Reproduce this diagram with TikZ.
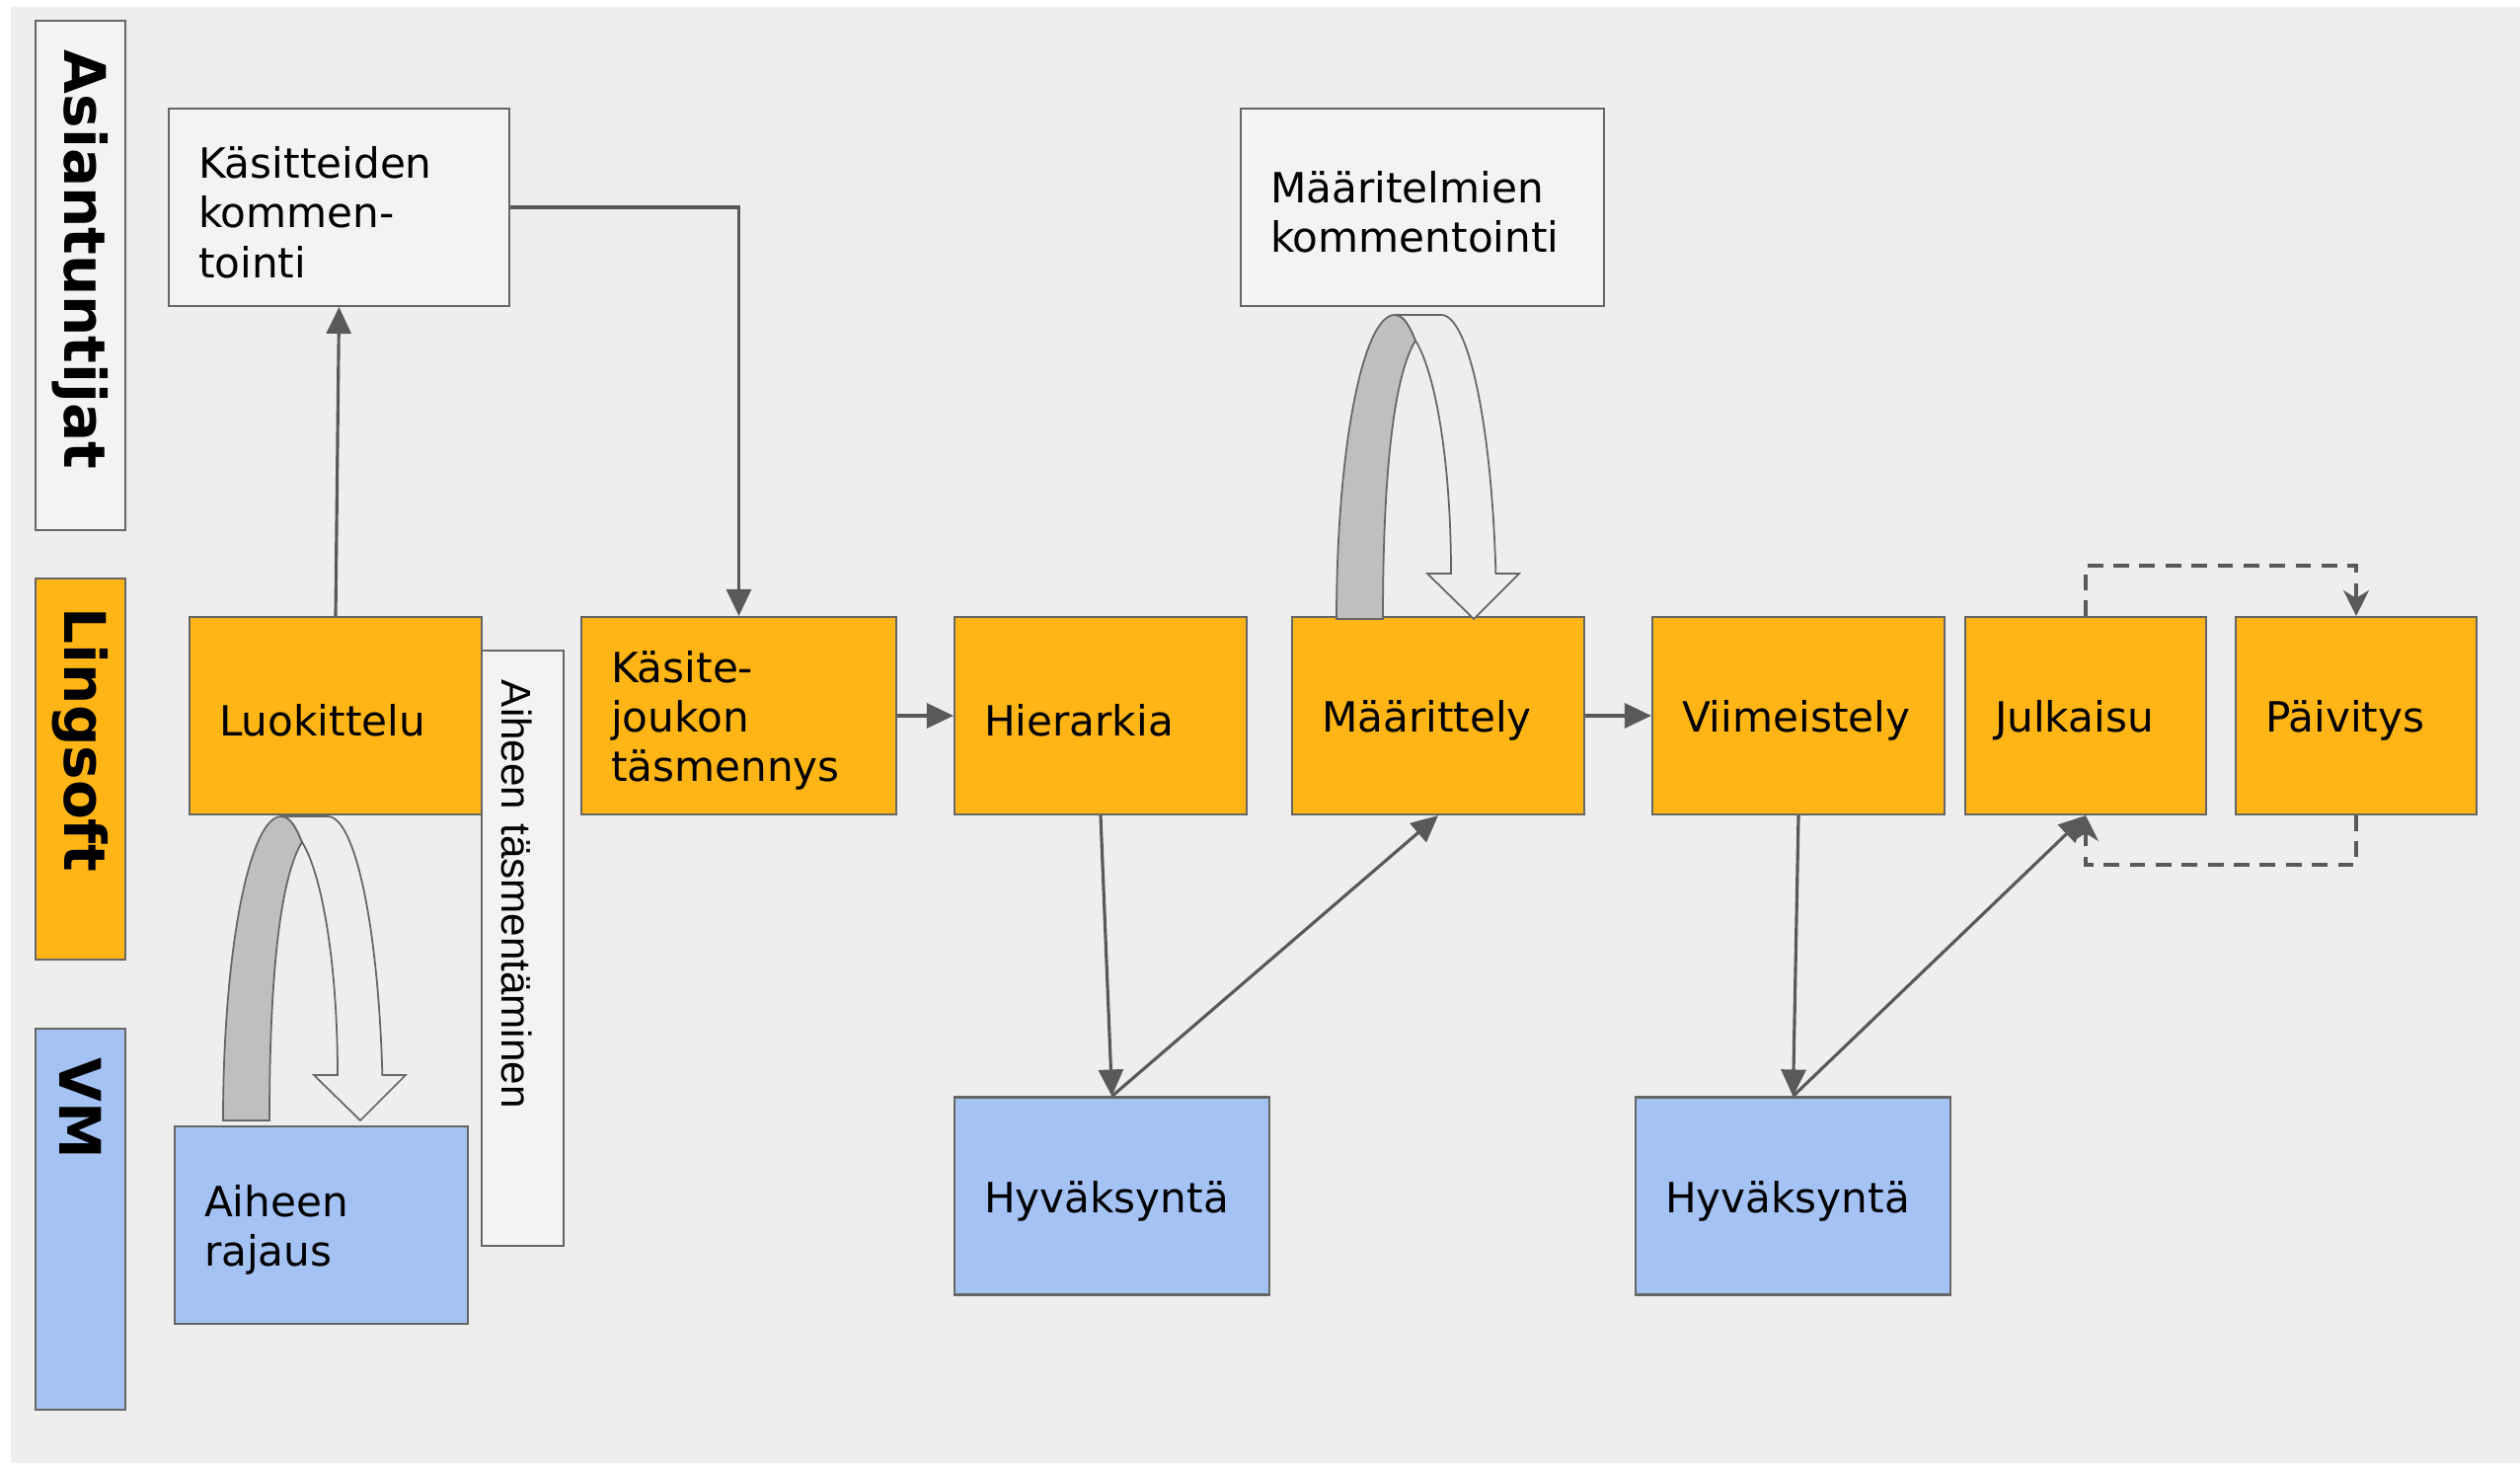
\documentclass[tikz,border=0pt]{standalone}
\usepackage{fontspec}
\setmainfont{DejaVu Sans}
\newfontfamily\arialfont{Liberation Sans}
\usetikzlibrary{arrows.meta}

\definecolor{bggray}{HTML}{EEEEEE}
\definecolor{boxline}{HTML}{666666}
\definecolor{arrowgray}{HTML}{595959}
\definecolor{lingsoft}{HTML}{FFB515}
\definecolor{vmblue}{HTML}{A4C2F4}
\definecolor{expert}{HTML}{F3F3F3}
\definecolor{tailgray}{HTML}{BFBFBF}

\begin{document}
\begin{tikzpicture}[
	  box/.style={draw=boxline, line width=0.6pt, minimum height=2cm, inner xsep=0.3cm, align=left,
	    font=\fontsize{12}{14.3}\selectfont, execute at begin node={\rule{0pt}{12pt}}},
	  lane/.style={draw=boxline, line width=0.6pt, rotate=-90, minimum height=0.91cm, inner xsep=0.3cm, align=left, font=\fontsize{16.5}{20}\selectfont\bfseries},
	  flow/.style={draw=arrowgray, line width=0.9pt, -{Triangle[length=0.27cm,width=0.25cm]}},
	  update/.style={draw=arrowgray, line width=0.9pt, dash pattern=on 4.5pt off 3pt, -{Stealth[length=0.26cm,width=0.26cm,inset=0.08cm]}},
	  loopshape/.style={draw=boxline, line width=0.5pt},
	]
	\useasboundingbox (0,0) rectangle (25.53,14.84);
	\fill [bggray] (0.11,0.02) rectangle (25.53,14.77);

	% kaistat
	\node [lane, fill=expert, text width=4.56cm] (asiantuntijat) at (0.815,12.05) {Asiantuntijat};
	\node [lane, fill=lingsoft, text width=3.26cm] (lingsoft) at (0.815,7.05) {Lingsoft};
	\node [lane, fill=vmblue, text width=3.26cm] (vm) at (0.815,2.49) {VM};

	% vaiheet
	\node [box, fill=expert, text width=2.85cm] (kasitteiden) at (3.435,12.74) {Käsitteiden\\kommen-\\tointi};
	\node [box, fill=expert, text width=3.08cm] (maaritelmien) at (14.41,12.74) {Määritelmien\\kommentointi};
	\node [box, fill=lingsoft, text width=2.36cm] (luokittelu) at (3.40,7.59) {Luokittelu};
	\node [box, fill=lingsoft, text width=2.59cm] (kasitejoukko) at (7.485,7.59) {Käsite-\\joukon\\täsmennys};
	\node [box, fill=lingsoft, text width=2.36cm] (hierarkia) at (11.15,7.59) {Hierarkia};
	\node [box, fill=lingsoft, text width=2.36cm] (maarittely) at (14.57,7.59) {Määrittely};
	\node [box, fill=lingsoft, text width=2.36cm] (viimeistely) at (18.22,7.59) {Viimeistely};
	\node [box, fill=lingsoft, text width=1.84cm] (julkaisu) at (21.13,7.59) {Julkaisu};
	\node [box, fill=lingsoft, text width=1.84cm] (paivitys) at (23.87,7.59) {Päivitys};
	\node [box, fill=vmblue, text width=2.37cm] (rajaus) at (3.255,2.43) {Aiheen\\rajaus};
	\node [box, fill=vmblue, text width=2.59cm] (hyvaksynta1) at (11.265,2.725) {Hyväksyntä};
	\node [box, fill=vmblue, text width=2.59cm] (hyvaksynta2) at (18.165,2.725) {Hyväksyntä};
	\node [box, fill=expert, rotate=-90, minimum height=0.83cm, text width=5.43cm,
	  font=\arialfont\fontsize{12}{14.3}\selectfont, execute at begin node={}] (tasmentaminen) at (5.295,5.235) {Aiheen täsmentäminen};

	% kaarinuolet
	\foreach \ox/\oy in {2.26/3.49, 13.54/8.57} {
	  \begin{scope}[shift={(\ox,\oy)}]
	    \filldraw [loopshape, fill=tailgray] (0,0) arc [start angle=180, end angle=90, x radius=0.59, y radius=3.08]
	      .. controls (0.68,3.08) and (0.74,2.97) .. (0.80,2.82)
	      .. controls (0.6,2.5) and (0.47,1.6) .. (0.47,0) -- cycle;
	    \filldraw [loopshape, fill=bggray] (0.59,3.08) -- (1.06,3.08)
	      arc [start angle=90, end angle=8.6, x radius=0.56, y radius=3.08]
	      -- (1.85,0.46) -- (1.39,0) -- (0.92,0.46) -- (1.16,0.46)
	      .. controls (1.16,1.6) and (1.0,2.5) .. (0.80,2.82)
	      .. controls (0.74,2.97) and (0.68,3.08) .. (0.59,3.08) -- cycle;
	  \end{scope}
	}

	% nuolet
	\draw [flow] (luokittelu.north) -- (kasitteiden.south);
	\draw [flow] (kasitteiden.east) -| (kasitejoukko.north);
	\draw [flow] (kasitejoukko.east) -- (hierarkia.west);
	\draw [flow] (maarittely.east) -- (viimeistely.west);
	\draw [flow] (hierarkia.south) -- (hyvaksynta1.north);
	\draw [flow] (hyvaksynta1.north) -- (maarittely.south);
	\draw [flow] (viimeistely.south) -- (hyvaksynta2.north);
	\draw [flow] (hyvaksynta2.north) -- (julkaisu.south);
	\draw [update] (julkaisu.north) -- ++(0,0.51) -| (paivitys.north);
	\draw [update] (paivitys.south) -- ++(0,-0.50) -| (julkaisu.south);
\end{tikzpicture}
\end{document}
